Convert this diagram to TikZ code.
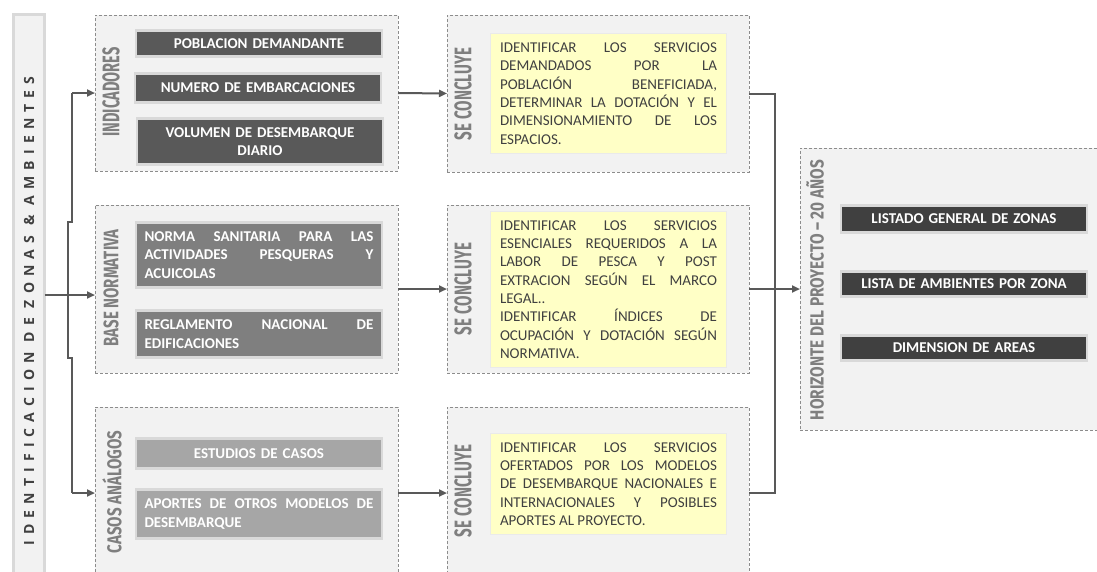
\documentclass[tikz,border=0pt]{standalone}
\usepackage{fontspec}
\usepackage{graphicx}
\setmainfont{Carlito}
\newfontfamily\lblfont{Fira Sans}
\newfontfamily\barfont[LetterSpace=44]{Open Sans}
\usetikzlibrary{arrows.meta}

\definecolor{linegray}{HTML}{595959}
\definecolor{dashgray}{HTML}{8C8C8C}
\definecolor{panel}{HTML}{F2F2F2}
\definecolor{rim}{HTML}{D9D9D9}
\definecolor{darkbox}{HTML}{595959}
\definecolor{midbox}{HTML}{7F7F7F}
\definecolor{lightbox}{HTML}{A6A6A6}
\definecolor{deepbox}{HTML}{404040}
\definecolor{note}{HTML}{FFFFC6}
\definecolor{noterim}{HTML}{EAEAEA}
\definecolor{notetext}{HTML}{404040}
\definecolor{lblgray}{HTML}{7F7F7F}

\tikzset{
  group/.style={draw=dashgray, fill=panel, dash pattern=on 3pt off 2pt,
    line width=0.8pt, inner sep=0pt, outer sep=0pt, anchor=north west},
  item/.style={draw=rim, line width=2.5pt, text=white, inner sep=0pt, outer sep=0pt,
    font=\bfseries\fontsize{15}{18.3}\selectfont, minimum width=246pt, text width=229pt},
  itemc/.style={item, align=center},
  itemj/.style={item, align=justify},
  notebox/.style={draw=noterim, fill=note, line width=1.5pt, text=notetext,
    inner sep=0pt, outer sep=0pt, minimum width=236pt, text width=217pt,
    align=justify, font=\fontsize{15}{18.3}\selectfont},
  sidelabel/.style={rotate=90, text=lblgray, inner sep=0pt},
  line/.style={draw=linegray, line width=2pt},
  conn/.style={line, -{Triangle[length=8pt,width=7pt]}}
}

% \sidetext{length}{text}: condensed side title stretched to a given length
\newcommand{\sidetext}[2]{\resizebox{#1}{\height}{#2}}

\begin{document}
\begin{tikzpicture}[x=1pt,y=-1pt]
\useasboundingbox (0,0) rectangle (1097,571);
\clip (0,0) rectangle (1097,571);

% left title bar
\node[draw=rim, fill=panel, line width=3pt, inner sep=0pt, outer sep=0pt,
  anchor=north west, minimum width=31pt, minimum height=600pt] (bar) at (13.5,14.5) {};
\node[rotate=90, text=deepbox, inner sep=0pt,
  font=\barfont\bfseries\fontsize{14}{16}\selectfont] (bartext) at (29,311)
  {IDENTIFICACION DE ZONAS \& AMBIENTES};

% first column of groups
\node[group, minimum width=303pt, minimum height=156pt] (g1) at (95,15) {};
\node[group, minimum width=303pt, minimum height=168pt] (g2) at (95,205) {};
\node[group, minimum width=303pt, minimum height=172pt] (g3) at (95,407) {};

\node[sidelabel, font=\lblfont\bfseries\fontsize{24}{24}\selectfont] (l1) at (111,92) {\sidetext{89pt}{INDICADORES}};
\node[sidelabel, font=\lblfont\bfseries\fontsize{21}{21}\selectfont] (l2) at (111,288) {\sidetext{117pt}{BASE NORMATIVA}};
\node[sidelabel, font=\lblfont\bfseries\fontsize{20}{20}\selectfont] (l3) at (112,492) {\sidetext{123pt}{CASOS ANÁLOGOS}};

\node[itemc, fill=darkbox, minimum height=26pt] (i1) at (259,43.5) {POBLACION DEMANDANTE};
\node[itemc, fill=darkbox, minimum height=29pt] (i2) at (258,88) {NUMERO DE EMBARCACIONES};
\node[itemc, fill=darkbox, minimum height=46pt] (i3) at (260,141.5) {VOLUMEN DE DESEMBARQUE\\DIARIO};

\node[itemj, fill=midbox, minimum height=65pt] (n1) at (259,255)
  {NORMA SANITARIA PARA LAS\linebreak ACTIVIDADES PESQUERAS Y\linebreak ACUICOLAS};
\node[itemj, fill=midbox, minimum height=47pt] (n2) at (259,334)
  {REGLAMENTO NACIONAL DE\linebreak EDIFICACIONES};

\node[itemc, fill=lightbox, minimum height=30pt] (a1) at (259,453.5) {ESTUDIOS DE CASOS};
\node[itemj, fill=lightbox, minimum height=49pt] (a2) at (259,514)
  {APORTES DE OTROS MODELOS DE\linebreak DESEMBARQUE};

% second column: conclusions
\node[group, minimum width=302pt, minimum height=157pt] (c1) at (447,15) {};
\node[group, minimum width=302pt, minimum height=168pt] (c2) at (447,205) {};
\node[group, minimum width=302pt, minimum height=172pt] (c3) at (447,407) {};

\node[sidelabel, font=\lblfont\bfseries\fontsize{24}{24}\selectfont] (s1) at (463,94) {\sidetext{92pt}{SE CONCLUYE}};
\node[sidelabel, font=\lblfont\bfseries\fontsize{24}{24}\selectfont] (s2) at (463,289) {\sidetext{92pt}{SE CONCLUYE}};
\node[sidelabel, font=\lblfont\bfseries\fontsize{24}{24}\selectfont] (s3) at (463,491) {\sidetext{92pt}{SE CONCLUYE}};

\node[notebox, minimum height=120pt] (y1) at (608.5,93.5)
  {IDENTIFICAR LOS SERVICIOS\linebreak DEMANDADOS POR LA\linebreak POBLACIÓN BENEFICIADA,\linebreak
   DETERMINAR LA DOTACIÓN Y EL\linebreak DIMENSIONAMIENTO DE LOS\linebreak ESPACIOS.};
\node[notebox, minimum height=156pt] (y2) at (608.5,289.5)
  {IDENTIFICAR LOS SERVICIOS\linebreak ESENCIALES REQUERIDOS A LA\linebreak LABOR DE PESCA Y POST\linebreak
   EXTRACION SEGÚN EL MARCO\linebreak LEGAL..\\IDENTIFICAR ÍNDICES DE\linebreak
   OCUPACIÓN Y DOTACIÓN SEGÚN\linebreak NORMATIVA.};
\node[notebox, minimum height=101pt] (y3) at (608.5,484)
  {IDENTIFICAR LOS SERVICIOS\linebreak OFERTADOS POR LOS MODELOS\linebreak
   DE DESEMBARQUE NACIONALES E\linebreak INTERNACIONALES Y POSIBLES\linebreak APORTES AL PROYECTO.};

% result group
\node[group, minimum width=310pt, minimum height=282pt] (r) at (800,148) {};
\node[sidelabel, font=\lblfont\bfseries\fontsize{19}{19}\selectfont] (rl) at (815,290)
  {\sidetext{260pt}{HORIZONTE DEL PROYECTO – 20 AÑOS}};
\node[itemc, fill=deepbox, minimum height=27pt] (r1) at (964,219) {LISTADO GENERAL DE ZONAS};
\node[itemc, fill=deepbox, minimum height=25pt] (r2) at (964,284) {LISTA DE AMBIENTES POR ZONA};
\node[itemc, fill=deepbox, minimum height=25pt] (r3) at (964,348) {DIMENSION DE AREAS};

% branching from the title bar
\draw[line] (g1.west -| 72,0) -- (72,222) -- (68,222) -- (68,358) -- (72,358) -- (g3.west -| 72,0);
\draw[conn] (g1.west -| 72,0) -- (g1.west);
\draw[conn] (bar.east |- 0,295) -- (g2.west |- 0,295);
\draw[conn] (g3.west -| 72,0) -- (g3.west);

% groups to conclusions
\draw[conn] (g1.east) -- (c1.west);
\draw[conn] (g2.east) -- (c2.west);
\draw[conn] (g3.east) -- (c3.west);

% conclusions to result
\draw[line] (c1.east) -- (c1.east -| 775,0) -- (c3.east -| 775,0) -- (c3.east);
\draw[conn] (c2.east) -- (r.west);
\end{tikzpicture}
\end{document}
